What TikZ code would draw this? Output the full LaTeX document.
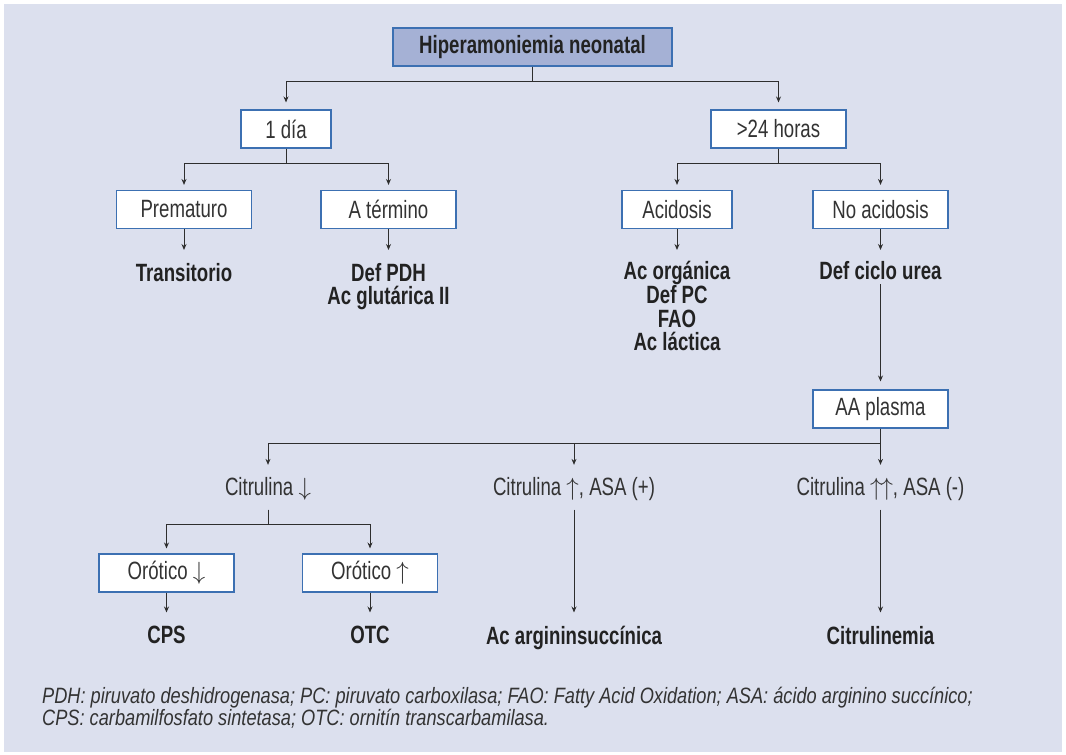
\documentclass[tikz,border=0pt]{standalone}
\usepackage{fontspec}
\setmainfont{Liberation Sans}[FakeStretch=0.745]
\newfontfamily\notefont{Liberation Sans}[FakeStretch=0.82]
\usetikzlibrary{arrows.meta}
\definecolor{bg}{HTML}{DCE0EE}
\definecolor{titlefill}{HTML}{A5B1D5}
\definecolor{boxblue}{HTML}{3C70B2}
\definecolor{lineg}{HTML}{2E2E2E}
\definecolor{txt}{HTML}{333333}
\definecolor{txtb}{HTML}{222222}
\newcommand{\upa}{\ensuremath{\uparrow}}
\newcommand{\dna}{\ensuremath{\downarrow}}
\tikzset{
  box/.style={draw=boxblue, line width=1.1pt, fill=white, minimum height=38pt, inner sep=0pt,
    font=\fontsize{25}{28}\selectfont, text=txt},
  titlebox/.style={box, fill=titlefill, font=\fontsize{25}{28}\selectfont\bfseries, text=txtb},
  res/.style={font=\fontsize{25}{23.3}\selectfont\bfseries, text=txtb, align=center, inner sep=0pt, anchor=north},
  lbl/.style={font=\fontsize{25}{28}\selectfont, text=txt, inner sep=0pt, text height=17.9pt, text depth=0pt},
  conn/.style={draw=lineg, line width=1pt},
  arr/.style={conn, -{Stealth[length=6pt,width=5pt]}},
}
\begin{document}
\begin{tikzpicture}[x=1pt,y=-1pt]
\useasboundingbox (0,0) rectangle (1066,755);
\fill[white] (0,0) rectangle (1066,755);
\fill[bg] (4,4) rectangle (1062,752);

% boxes
\node[titlebox, minimum width=279pt] (title) at (532.5,47) {Hiperamoniemia neonatal};
\node[box, minimum width=90pt] (dia) at (286,129) {1 día};
\node[box, minimum width=135pt] (horas) at (778.5,129) {>24 horas};
\node[box, minimum width=135pt] (prem) at (184,209.5) {Prematuro};
\node[box, minimum width=135pt] (term) at (388.5,209.5) {A término};
\node[box, minimum width=110pt] (acid) at (677,209.5) {Acidosis};
\node[box, minimum width=135pt] (noacid) at (880.5,209.5) {No acidosis};
\node[box, minimum width=135pt] (aa) at (880.5,409) {AA plasma};
\node[box, minimum width=135pt] (orD) at (166.5,573) {Orótico \dna};
\node[box, minimum width=135pt] (orU) at (370,573) {Orótico \upa};

% results
\node[res] (trans) at (184,263) {Transitorio};
\node[res] (pdh) at (388.5,263) {Def PDH\\Ac glutárica II};
\node[res] (org) at (677,261) {Ac orgánica\\Def PC\\FAO\\Ac láctica};
\node[res] (urea) at (880.5,261) {Def ciclo urea};
\node[res] (cps) at (166.5,626) {CPS};
\node[res] (otc) at (370,626) {OTC};
\node[res] (asa) at (574,626) {Ac argininsuccínica};
\node[res] (citr) at (880.5,626) {Citrulinemia};

% citrulina labels
\node[lbl] (citD) at (268,487) {Citrulina \dna};
\node[lbl] (citU) at (574,487) {Citrulina \upa, ASA (+)};
\node[lbl] (citUU) at (880.5,487) {Citrulina \upa\kern-2pt\upa, ASA (-)};

% connectors
\draw[arr, shorten >=7pt] (title.south) -- ++(0,15) -| (dia.north);
\draw[arr, shorten >=7pt] (title.south) -- ++(0,15) -| (horas.north);
\draw[arr, shorten >=5pt] (dia.south) -- ++(0,15) -| (prem.north);
\draw[arr, shorten >=5pt] (dia.south) -- ++(0,15) -| (term.north);
\draw[arr, shorten >=5pt] (horas.south) -- ++(0,15) -| (acid.north);
\draw[arr, shorten >=5pt] (horas.south) -- ++(0,15) -| (noacid.north);

\draw[arr, shorten >=13pt] (prem.south) -- (prem.south |- trans.north);
\draw[arr, shorten >=13pt] (term.south) -- (term.south |- pdh.north);
\draw[arr, shorten >=11pt] (acid.south) -- (acid.south |- org.north);
\draw[arr, shorten >=11pt] (noacid.south) -- (noacid.south |- urea.north);

\draw[arr, shorten <=23pt, shorten >=8pt] (urea.north) -- (aa.north);

\draw[arr, shorten >=13pt] (aa.south) -- ++(0,15) -| (citD.north);
\draw[arr, shorten >=13pt] (aa.south) -- ++(0,15) -| (citU.north);
\draw[arr, shorten >=13pt] (aa.south) -- (citUU.north);

\draw[arr, shorten <=13.5pt, shorten >=5pt] (citD.south) -- ++(0,28.5) -| (orD.north);
\draw[arr, shorten <=13.5pt, shorten >=5pt] (citD.south) -- ++(0,28.5) -| (orU.north);
\draw[arr, shorten <=13.5pt, shorten >=13.5pt] (citU.south) -- (asa.north);
\draw[arr, shorten <=13.5pt, shorten >=13.5pt] (citUU.south) -- (citr.north);
\draw[arr, shorten >=13.5pt] (orD.south) -- (cps.north);
\draw[arr, shorten >=13.5pt] (orU.south) -- (otc.north);

% footnote
\node[anchor=north west, align=left, inner sep=0pt, text=txt,
  font=\notefont\itshape\fontsize{22.2}{22}\selectfont] (note) at (42,687)
  {PDH: piruvato deshidrogenasa; PC: piruvato carboxilasa; FAO: Fatty Acid Oxidation; ASA: ácido arginino succínico;\\
   CPS: carbamilfosfato sintetasa; OTC: ornitín transcarbamilasa.};
\end{tikzpicture}
\end{document}
